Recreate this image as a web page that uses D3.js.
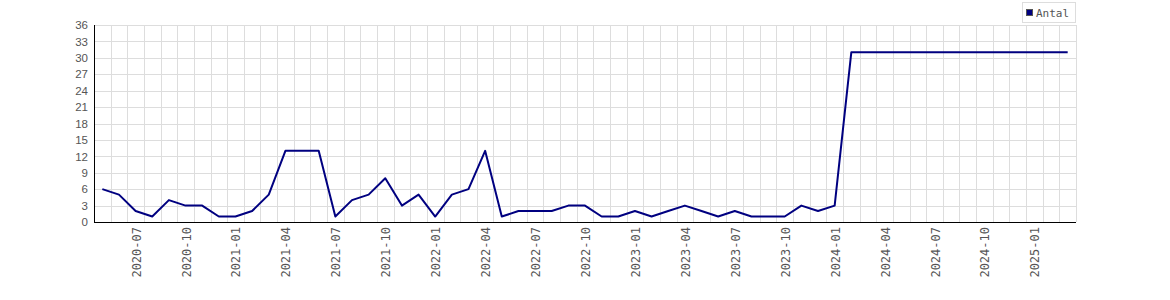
<!DOCTYPE html>
<html>
<head>
<meta charset="utf-8">
<script src="https://cdn.jsdelivr.net/npm/d3@7"></script>
<style>
  body { margin: 0; background: #fff; }
  svg { display: block; }
</style>
</head>
<body>
<div id="chart"></div>
<script>
// Monthly counts, 2020-05 .. 2025-03
const months = [
  "2020-05", "2020-06", "2020-07", "2020-08", "2020-09", "2020-10", "2020-11", "2020-12",
  "2021-01", "2021-02", "2021-03", "2021-04", "2021-05", "2021-06", "2021-07", "2021-08",
  "2021-09", "2021-10", "2021-11", "2021-12", "2022-01", "2022-02", "2022-03", "2022-04",
  "2022-05", "2022-06", "2022-07", "2022-08", "2022-09", "2022-10", "2022-11", "2022-12",
  "2023-01", "2023-02", "2023-03", "2023-04", "2023-05", "2023-06", "2023-07", "2023-08",
  "2023-09", "2023-10", "2023-11", "2023-12", "2024-01", "2024-02", "2024-03", "2024-04",
  "2024-05", "2024-06", "2024-07", "2024-08", "2024-09", "2024-10", "2024-11", "2024-12",
  "2025-01", "2025-02", "2025-03"
];
const antal = [
  6, 5, 2, 1, 4, 3, 3, 1,
  1, 2, 5, 13, 13, 13, 1, 4,
  5, 8, 3, 5, 1, 5, 6, 13,
  1, 2, 2, 2, 3, 3, 1, 1,
  2, 1, 2, 3, 2, 1, 2, 1,
  1, 1, 3, 2, 3, 31, 31, 31,
  31, 31, 31, 31, 31, 31, 31, 31,
  31, 31, 31
];
const yTicks = [0, 3, 6, 9, 12, 15, 18, 21, 24, 27, 30, 33, 36];
const seriesName = "Antal";

const W = 1170, H = 300;
const margin = { top: 25, right: 94, bottom: 78, left: 94 };
const width = W - margin.left - margin.right;
const height = H - margin.top - margin.bottom;

const svg = d3.select("#chart").append("svg")
  .attr("width", W)
  .attr("height", H);

const g = svg.append("g")
  .attr("transform", `translate(${margin.left},${margin.top})`);

const x = d3.scaleBand()
  .domain(months)
  .range([0, width]);

const y = d3.scaleLinear()
  .domain([0, 36])
  .range([height, 0]);

// Grid
g.append("g")
  .selectAll("line.hgrid")
  .data(yTicks.slice(1))
  .enter().append("line")
  .attr("x1", 0).attr("x2", width)
  .attr("y1", d => Math.round(y(d)) + 0.5)
  .attr("y2", d => Math.round(y(d)) + 0.5)
  .attr("stroke", "#dddddd");

g.append("g")
  .selectAll("line.vgrid")
  .data(months.slice(1).concat(["end"]))
  .enter().append("line")
  .attr("x1", (d, i) => Math.round(x.step() * (i + 1)) + 0.5)
  .attr("x2", (d, i) => Math.round(x.step() * (i + 1)) + 0.5)
  .attr("y1", 0).attr("y2", height)
  .attr("stroke", "#dddddd");

// Axes
const yAxis = g.append("g")
  .call(d3.axisLeft(y).tickValues(yTicks).tickSize(0).tickPadding(6));
yAxis.select(".domain").remove();
yAxis.selectAll("text")
  .attr("fill", "#555")
  .style("font-family", "'Liberation Sans', Arial, sans-serif")
  .style("font-size", "11.5px");

g.append("line")
  .attr("x1", 0.5).attr("x2", 0.5)
  .attr("y1", 0).attr("y2", height + 0.5)
  .attr("stroke", "#000");
g.append("line")
  .attr("x1", 0).attr("x2", width)
  .attr("y1", height + 0.5).attr("y2", height + 0.5)
  .attr("stroke", "#000");

const labelMonths = months.filter((m, i) => i % 3 === 2);
g.append("g")
  .selectAll("text.xlab")
  .data(labelMonths)
  .enter().append("text")
  .attr("transform", d => `translate(${x(d) + x.bandwidth() / 2 + 5},${height + 5}) rotate(-90)`)
  .attr("text-anchor", "end")
  .attr("fill", "#555")
  .style("font-family", "'DejaVu Sans Mono', monospace")
  .style("font-size", "12px")
  .text(d => d);

// Line
const line = d3.line()
  .x((d, i) => x(months[i]) + x.bandwidth() / 2)
  .y(d => y(d));

g.append("path")
  .datum(antal)
  .attr("fill", "none")
  .attr("stroke", "#000080")
  .attr("stroke-width", 2)
  .attr("stroke-linejoin", "round")
  .attr("d", line);

// Legend
const legend = svg.append("g").attr("transform", "translate(1022,2)");
legend.append("rect")
  .attr("x", 0.5).attr("y", 0.5)
  .attr("width", 53).attr("height", 20)
  .attr("fill", "#fff")
  .attr("stroke", "#dddddd");
legend.append("rect")
  .attr("x", 4.5).attr("y", 7.5)
  .attr("width", 6).attr("height", 6)
  .attr("fill", "#000080")
  .attr("stroke", "#555");
legend.append("text")
  .attr("x", 14).attr("y", 15)
  .attr("fill", "#555")
  .style("font-family", "'DejaVu Sans Mono', monospace")
  .style("font-size", "11px")
  .text(seriesName);
</script>
</body>
</html>
